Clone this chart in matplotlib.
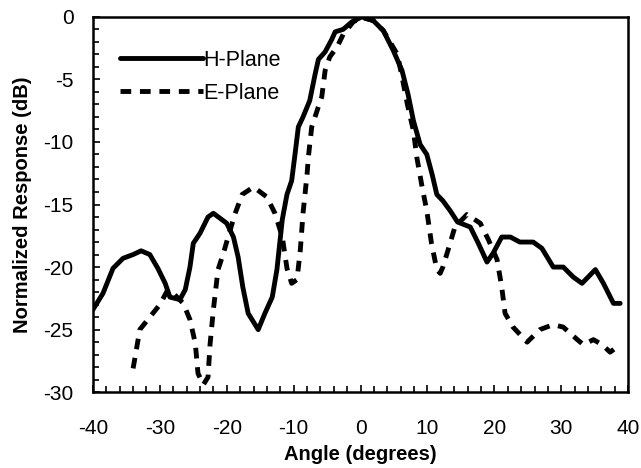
import matplotlib

matplotlib.use("Agg")
import matplotlib.pyplot as plt
from matplotlib.ticker import MultipleLocator

# digitised radiation pattern (angle in degrees, response in dB)
h_angle = [-40, -38.5, -37, -35.5, -34, -32.8, -31.5, -30.3, -29.2, -28.5, -27,
           -26.2, -25.5, -25, -24, -22.8, -22, -20, -19, -18.3, -17.6, -16.8,
           -15.3, -14.3, -13.2, -12.5, -11.7, -11, -10.3, -9.8, -9.3, -8.6,
           -7.6, -6.8, -6.3, -5.3, -4.3, -3.8, -2.6, -1.3, 0.2, 1.9, 3.4, 4.9,
           6.2, 7.1, 7.9, 8.9, 9.9, 10.7, 11.4, 12.3, 13.4, 14.5, 16.4, 17.6,
           18.9, 19.8, 21.1, 22.4, 23.8, 25.8, 27.1, 28.8, 30.3, 31.8, 33.1,
           35.1, 36.3, 37.8, 38.8]
h_resp = [-23.4, -22.1, -20.1, -19.3, -19.0, -18.7, -19.0, -20.1, -21.3, -22.4,
          -22.6, -21.8, -20.0, -18.1, -17.3, -16.0, -15.7, -16.5, -17.6, -19.2,
          -21.6, -23.7, -25.0, -23.7, -22.4, -20.2, -16.2, -14.2, -13.1, -11.0,
          -8.8, -8.0, -6.7, -4.6, -3.4, -2.8, -1.8, -1.2, -1.0, -0.4, 0.0,
          -0.3, -1.1, -2.7, -4.3, -6.2, -8.3, -10.2, -11.0, -12.6, -14.2,
          -14.7, -15.5, -16.4, -16.8, -18.1, -19.6, -18.9, -17.6, -17.6, -18.0,
          -18.0, -18.5, -20.0, -20.0, -20.8, -21.3, -20.2, -21.3, -22.9, -22.9]

e_angle = [-34, -33.6, -33, -31.5, -30, -28.8, -27.8, -26.5, -25.5, -24.7,
           -24.3, -23.5, -22.8, -22.5, -22, -21.3, -20.5, -19.8, -18.8, -17.7,
           -16, -14, -12.8, -11.7, -11, -10.3, -9.5, -9, -8.6, -8, -7.8, -7.3,
           -6.5, -5.8, -5.3, -4.6, -3.5, -2.6, -1.1, 0.2, 1.9, 3.4, 5.5, 6.2,
           7.0, 7.9, 8.4, 9.2, 9.9, 10.6, 11.4, 11.9, 12.3, 13.1, 14.1, 15.9,
           17.9, 19.1, 20.4, 21.1, 21.6, 22.8, 24.9, 26.8, 28.8, 30.3, 32.4,
           33.3, 34.8, 36.1, 37.3, 38.8]
e_resp = [-28.1, -26.9, -25.0, -24.0, -23.0, -21.8, -22.2, -22.9, -24.2, -26.1,
          -28.5, -29.4, -28.8, -26.2, -23.4, -20.2, -18.9, -17.6, -15.8, -14.2,
          -13.6, -14.4, -15.7, -17.6, -20.1, -21.3, -21.0, -18.6, -15.7, -12.6,
          -11.2, -8.8, -7.5, -6.4, -4.3, -3.2, -2.4, -1.4, -0.4, -0.05, -0.3,
          -1.1, -3.0, -4.8, -7.0, -9.1, -11.2, -13.6, -15.5, -18.1, -20.2,
          -20.5, -20.0, -18.6, -16.8, -15.8, -16.5, -17.8, -19.4, -21.6, -23.7,
          -24.8, -26.0, -25.0, -24.6, -24.8, -25.8, -26.2, -25.8, -26.2, -26.8,
          -26.2]

plt.rcParams.update({
    "font.family": "sans-serif",
    "font.sans-serif": ["Liberation Sans", "Arial", "DejaVu Sans"],
    "axes.unicode_minus": False,
})

fig = plt.figure(figsize=(6.41, 4.68), dpi=100)
ax = fig.add_axes([0.145, 0.162, 0.835, 0.802])

ax.plot(h_angle, h_resp, color="black", lw=3.5, solid_joinstyle="round",
        solid_capstyle="round", label="H-Plane")
ax.plot(e_angle, e_resp, color="black", lw=3.5, dashes=(2.2, 1.8),
        dash_capstyle="butt", dash_joinstyle="round", label="E-Plane")

ax.set_xlim(-40, 40)
ax.set_ylim(-30, 0)
ax.xaxis.set_major_locator(MultipleLocator(10))
ax.xaxis.set_minor_locator(MultipleLocator(2))
ax.yaxis.set_major_locator(MultipleLocator(5))
ax.yaxis.set_minor_locator(MultipleLocator(1))
ax.tick_params(which="both", direction="in", width=1.2, labelsize=15,
               top=False, right=False)
ax.tick_params(axis="x", pad=19)
ax.tick_params(axis="y", pad=14)
ax.tick_params(which="major", length=5)
ax.tick_params(which="minor", length=4)
for sp in ax.spines.values():
    sp.set_linewidth(1.8)

ax.set_xlabel("Angle (degrees)", fontsize=14.5, fontweight="bold", labelpad=5)
ax.set_ylabel("Normalized Response (dB)", fontsize=14.5, fontweight="bold",
              labelpad=8)

ax.legend(loc="upper left", bbox_to_anchor=(0.05, 0.912), frameon=False,
          fontsize=15.5, handlelength=3.85, handletextpad=0.05,
          labelspacing=0.55, borderpad=0, borderaxespad=0)

fig.savefig("out.png", dpi=100)
